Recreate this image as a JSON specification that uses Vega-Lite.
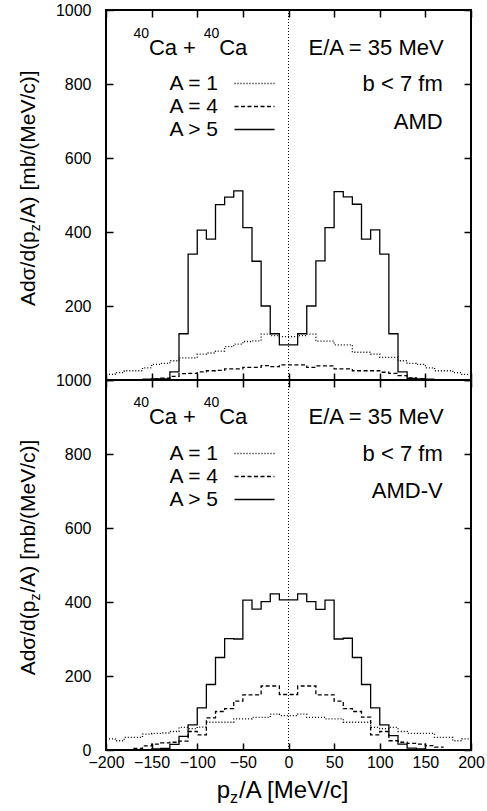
{
  "$schema": "https://vega.github.io/schema/vega-lite/v6.json",
  "padding": {"left": 16, "top": 1, "right": 0, "bottom": 0},
  "background": "white",
  "datasets": {
    "amd": [
      {"series":"A = 1","pz":-200,"v":15},{"series":"A = 1","pz":-190,"v":20},{"series":"A = 1","pz":-180,"v":25},{"series":"A = 1","pz":-170,"v":25},{"series":"A = 1","pz":-160,"v":33},{"series":"A = 1","pz":-150,"v":42},{"series":"A = 1","pz":-140,"v":45},{"series":"A = 1","pz":-130,"v":52},{"series":"A = 1","pz":-120,"v":60},{"series":"A = 1","pz":-110,"v":60},{"series":"A = 1","pz":-100,"v":70},{"series":"A = 1","pz":-90,"v":73},{"series":"A = 1","pz":-80,"v":78},{"series":"A = 1","pz":-70,"v":90},{"series":"A = 1","pz":-60,"v":97},{"series":"A = 1","pz":-50,"v":104},{"series":"A = 1","pz":-40,"v":106},{"series":"A = 1","pz":-30,"v":124},{"series":"A = 1","pz":-20,"v":120},{"series":"A = 1","pz":-10,"v":117},{"series":"A = 1","pz":0,"v":117},{"series":"A = 1","pz":10,"v":120},{"series":"A = 1","pz":20,"v":124},{"series":"A = 1","pz":30,"v":105},{"series":"A = 1","pz":40,"v":105},{"series":"A = 1","pz":50,"v":95},{"series":"A = 1","pz":60,"v":95},{"series":"A = 1","pz":70,"v":75},{"series":"A = 1","pz":80,"v":75},{"series":"A = 1","pz":90,"v":70},{"series":"A = 1","pz":100,"v":61},{"series":"A = 1","pz":110,"v":61},{"series":"A = 1","pz":120,"v":52},{"series":"A = 1","pz":130,"v":45},{"series":"A = 1","pz":140,"v":42},{"series":"A = 1","pz":150,"v":33},{"series":"A = 1","pz":160,"v":25},{"series":"A = 1","pz":170,"v":25},{"series":"A = 1","pz":180,"v":20},{"series":"A = 1","pz":190,"v":15},{"series":"A = 1","pz":200,"v":15},
      {"series":"A = 4","pz":-160,"v":1},{"series":"A = 4","pz":-150,"v":3},{"series":"A = 4","pz":-140,"v":5},{"series":"A = 4","pz":-130,"v":10},{"series":"A = 4","pz":-120,"v":17},{"series":"A = 4","pz":-110,"v":18},{"series":"A = 4","pz":-100,"v":22},{"series":"A = 4","pz":-90,"v":25},{"series":"A = 4","pz":-80,"v":26},{"series":"A = 4","pz":-70,"v":30},{"series":"A = 4","pz":-60,"v":30},{"series":"A = 4","pz":-50,"v":34},{"series":"A = 4","pz":-40,"v":34},{"series":"A = 4","pz":-30,"v":39},{"series":"A = 4","pz":-20,"v":36},{"series":"A = 4","pz":-10,"v":41},{"series":"A = 4","pz":0,"v":41},{"series":"A = 4","pz":10,"v":41},{"series":"A = 4","pz":20,"v":34},{"series":"A = 4","pz":30,"v":38},{"series":"A = 4","pz":40,"v":38},{"series":"A = 4","pz":50,"v":30},{"series":"A = 4","pz":60,"v":30},{"series":"A = 4","pz":70,"v":25},{"series":"A = 4","pz":80,"v":25},{"series":"A = 4","pz":90,"v":25},{"series":"A = 4","pz":100,"v":21},{"series":"A = 4","pz":110,"v":18},{"series":"A = 4","pz":120,"v":12},{"series":"A = 4","pz":130,"v":6},{"series":"A = 4","pz":140,"v":3},{"series":"A = 4","pz":150,"v":1},{"series":"A = 4","pz":160,"v":1},
      {"series":"A > 5","pz":-160,"v":2},{"series":"A > 5","pz":-150,"v":3},{"series":"A > 5","pz":-140,"v":3},{"series":"A > 5","pz":-130,"v":22},{"series":"A > 5","pz":-120,"v":125},{"series":"A > 5","pz":-110,"v":340},{"series":"A > 5","pz":-100,"v":405},{"series":"A > 5","pz":-90,"v":381},{"series":"A > 5","pz":-80,"v":474},{"series":"A > 5","pz":-70,"v":494},{"series":"A > 5","pz":-60,"v":511},{"series":"A > 5","pz":-50,"v":412},{"series":"A > 5","pz":-40,"v":321},{"series":"A > 5","pz":-30,"v":200},{"series":"A > 5","pz":-20,"v":125},{"series":"A > 5","pz":-10,"v":95},{"series":"A > 5","pz":0,"v":95},{"series":"A > 5","pz":10,"v":125},{"series":"A > 5","pz":20,"v":200},{"series":"A > 5","pz":30,"v":322},{"series":"A > 5","pz":40,"v":412},{"series":"A > 5","pz":50,"v":509},{"series":"A > 5","pz":60,"v":495},{"series":"A > 5","pz":70,"v":475},{"series":"A > 5","pz":80,"v":381},{"series":"A > 5","pz":90,"v":406},{"series":"A > 5","pz":100,"v":340},{"series":"A > 5","pz":110,"v":125},{"series":"A > 5","pz":120,"v":22},{"series":"A > 5","pz":130,"v":4},{"series":"A > 5","pz":140,"v":3},{"series":"A > 5","pz":150,"v":2},{"series":"A > 5","pz":160,"v":2}
    ],
    "amdv": [
      {"series":"A = 1","pz":-200,"v":30},{"series":"A = 1","pz":-190,"v":25},{"series":"A = 1","pz":-180,"v":34},{"series":"A = 1","pz":-170,"v":34},{"series":"A = 1","pz":-160,"v":43},{"series":"A = 1","pz":-150,"v":45},{"series":"A = 1","pz":-140,"v":46},{"series":"A = 1","pz":-130,"v":50},{"series":"A = 1","pz":-120,"v":61},{"series":"A = 1","pz":-110,"v":58},{"series":"A = 1","pz":-100,"v":62},{"series":"A = 1","pz":-90,"v":75},{"series":"A = 1","pz":-80,"v":75},{"series":"A = 1","pz":-70,"v":75},{"series":"A = 1","pz":-60,"v":84},{"series":"A = 1","pz":-50,"v":84},{"series":"A = 1","pz":-40,"v":88},{"series":"A = 1","pz":-30,"v":88},{"series":"A = 1","pz":-20,"v":97},{"series":"A = 1","pz":-10,"v":93},{"series":"A = 1","pz":0,"v":93},{"series":"A = 1","pz":10,"v":97},{"series":"A = 1","pz":20,"v":88},{"series":"A = 1","pz":30,"v":88},{"series":"A = 1","pz":40,"v":84},{"series":"A = 1","pz":50,"v":84},{"series":"A = 1","pz":60,"v":75},{"series":"A = 1","pz":70,"v":75},{"series":"A = 1","pz":80,"v":75},{"series":"A = 1","pz":90,"v":61},{"series":"A = 1","pz":100,"v":58},{"series":"A = 1","pz":110,"v":61},{"series":"A = 1","pz":120,"v":50},{"series":"A = 1","pz":130,"v":45},{"series":"A = 1","pz":140,"v":45},{"series":"A = 1","pz":150,"v":45},{"series":"A = 1","pz":160,"v":34},{"series":"A = 1","pz":170,"v":34},{"series":"A = 1","pz":180,"v":25},{"series":"A = 1","pz":190,"v":30},{"series":"A = 1","pz":200,"v":30},
      {"series":"A = 4","pz":-170,"v":4},{"series":"A = 4","pz":-160,"v":11},{"series":"A = 4","pz":-150,"v":16},{"series":"A = 4","pz":-140,"v":19},{"series":"A = 4","pz":-130,"v":21},{"series":"A = 4","pz":-120,"v":24},{"series":"A = 4","pz":-110,"v":50},{"series":"A = 4","pz":-100,"v":41},{"series":"A = 4","pz":-90,"v":87},{"series":"A = 4","pz":-80,"v":104},{"series":"A = 4","pz":-70,"v":112},{"series":"A = 4","pz":-60,"v":132},{"series":"A = 4","pz":-50,"v":149},{"series":"A = 4","pz":-40,"v":149},{"series":"A = 4","pz":-30,"v":173},{"series":"A = 4","pz":-20,"v":173},{"series":"A = 4","pz":-10,"v":150},{"series":"A = 4","pz":0,"v":150},{"series":"A = 4","pz":10,"v":173},{"series":"A = 4","pz":20,"v":173},{"series":"A = 4","pz":30,"v":149},{"series":"A = 4","pz":40,"v":149},{"series":"A = 4","pz":50,"v":132},{"series":"A = 4","pz":60,"v":112},{"series":"A = 4","pz":70,"v":104},{"series":"A = 4","pz":80,"v":89},{"series":"A = 4","pz":90,"v":41},{"series":"A = 4","pz":100,"v":50},{"series":"A = 4","pz":110,"v":25},{"series":"A = 4","pz":120,"v":21},{"series":"A = 4","pz":130,"v":18},{"series":"A = 4","pz":140,"v":16},{"series":"A = 4","pz":150,"v":12},{"series":"A = 4","pz":160,"v":8},{"series":"A = 4","pz":170,"v":8},
      {"series":"A > 5","pz":-160,"v":1},{"series":"A > 5","pz":-150,"v":3},{"series":"A > 5","pz":-140,"v":4},{"series":"A > 5","pz":-130,"v":15},{"series":"A > 5","pz":-120,"v":37},{"series":"A > 5","pz":-110,"v":68},{"series":"A > 5","pz":-100,"v":114},{"series":"A > 5","pz":-90,"v":177},{"series":"A > 5","pz":-80,"v":250},{"series":"A > 5","pz":-70,"v":301},{"series":"A > 5","pz":-60,"v":300},{"series":"A > 5","pz":-50,"v":405},{"series":"A > 5","pz":-40,"v":381},{"series":"A > 5","pz":-30,"v":401},{"series":"A > 5","pz":-20,"v":422},{"series":"A > 5","pz":-10,"v":406},{"series":"A > 5","pz":0,"v":406},{"series":"A > 5","pz":10,"v":422},{"series":"A > 5","pz":20,"v":401},{"series":"A > 5","pz":30,"v":380},{"series":"A > 5","pz":40,"v":405},{"series":"A > 5","pz":50,"v":300},{"series":"A > 5","pz":60,"v":302},{"series":"A > 5","pz":70,"v":250},{"series":"A > 5","pz":80,"v":177},{"series":"A > 5","pz":90,"v":114},{"series":"A > 5","pz":100,"v":68},{"series":"A > 5","pz":110,"v":39},{"series":"A > 5","pz":120,"v":16},{"series":"A > 5","pz":130,"v":5},{"series":"A > 5","pz":140,"v":3},{"series":"A > 5","pz":150,"v":1},{"series":"A > 5","pz":160,"v":1}
    ]
  },
  "vconcat": [
    {
      "width": 365, "height": 370,
      "resolve": {"axis": {"x": "independent", "y": "independent"}},
      "layer": [
        {
          "data": {"name": "amd"},
          "mark": {"type": "line", "interpolate": "step-after", "color": "black", "strokeWidth": 1.3},
          "encoding": {
            "x": {"field": "pz", "type": "quantitative", "scale": {"domain": [-200, 200], "nice": false},
                  "axis": {"orient": "bottom", "values": [-200,-150,-100,-50,0,50,100,150,200], "labels": false, "title": null}},
            "y": {"field": "v", "type": "quantitative", "scale": {"domain": [0, 1000], "nice": false},
                  "axis": {"orient": "left", "values": [0,200,400,600,800,1000], "format": "d", "labelExpr": "datum.value == 0 ? '' : datum.label", "title": null}},
            "strokeDash": {"field": "series", "type": "nominal",
                  "scale": {"domain": ["A = 1", "A = 4", "A > 5"], "range": [[1, 2], [4, 2.5], [1, 0]]},
                  "legend": {"orient": "none", "legendX": 138, "legendY": 63, "title": null, "symbolType": "M-4,0H4", "symbolSize": 100, "symbolStrokeWidth": 1.3, "symbolStrokeColor": "black", "symbolFillColor": "transparent", "labelFontSize": 21, "labelFont": "Liberation Sans", "labelColor": "black", "labelAlign": "right", "labelBaseline": "middle", "labelOffset": -47, "rowPadding": 1, "padding": 0}}
          }
        },
        {
          "data": {"values": [{}]},
          "mark": {"type": "rule", "color": "black", "strokeWidth": 1, "strokeDash": [1, 2]},
          "encoding": {
            "x": {"datum": 0, "type": "quantitative", "axis": {"orient": "top", "values": [-200,-150,-100,-50,0,50,100,150,200], "labels": false, "title": null}}
          }
        },
        {
          "data": {"values": [{}]},
          "mark": {"type": "text", "align": "right", "baseline": "alphabetic", "fontSize": 22, "text": "E/A = 35 MeV"},
          "encoding": {
            "x": {"datum": 170, "type": "quantitative", "axis": null},
            "y": {"datum": 879, "type": "quantitative", "axis": {"orient": "right", "values": [0,200,400,600,800,1000], "labels": false, "title": null}}
          }
        },
        {
          "data": {"values": [{}]},
          "mark": {"type": "text", "align": "left", "baseline": "alphabetic", "fontSize": 14, "dy": -17, "text": "40"},
          "encoding": {"x": {"datum": -170, "type": "quantitative", "axis": null}, "y": {"datum": 879, "type": "quantitative", "axis": null}}
        },
        {
          "data": {"values": [{}]},
          "mark": {"type": "text", "align": "left", "baseline": "alphabetic", "fontSize": 22, "text": "Ca +"},
          "encoding": {"x": {"datum": -153, "type": "quantitative", "axis": null}, "y": {"datum": 879, "type": "quantitative", "axis": null}}
        },
        {
          "data": {"values": [{}]},
          "mark": {"type": "text", "align": "left", "baseline": "alphabetic", "fontSize": 14, "dy": -17, "text": "40"},
          "encoding": {"x": {"datum": -93, "type": "quantitative", "axis": null}, "y": {"datum": 879, "type": "quantitative", "axis": null}}
        },
        {
          "data": {"values": [{}]},
          "mark": {"type": "text", "align": "left", "baseline": "alphabetic", "fontSize": 22, "text": "Ca"},
          "encoding": {"x": {"datum": -76, "type": "quantitative", "axis": null}, "y": {"datum": 879, "type": "quantitative", "axis": null}}
        },
        {
          "data": {"values": [{}]},
          "mark": {"type": "text", "align": "right", "baseline": "alphabetic", "fontSize": 22, "text": "b < 7 fm"},
          "encoding": {"x": {"datum": 169, "type": "quantitative", "axis": null}, "y": {"datum": 780, "type": "quantitative", "axis": null}}
        },
        {
          "data": {"values": [{}]},
          "mark": {"type": "text", "align": "right", "baseline": "alphabetic", "fontSize": 22, "text": "AMD"},
          "encoding": {"x": {"datum": 169, "type": "quantitative", "axis": null}, "y": {"datum": 679, "type": "quantitative", "axis": null}}
        },
        {
          "data": {"values": [{}]},
          "mark": {"type": "text", "align": "right", "baseline": "alphabetic", "angle": 270, "fontSize": 21, "text": "Adσ/d(p"},
          "encoding": {"x": {"datum": -278, "type": "quantitative", "axis": null}, "y": {"datum": 402, "type": "quantitative", "axis": null}}
        },
        {
          "data": {"values": [{}]},
          "mark": {"type": "text", "align": "left", "baseline": "alphabetic", "angle": 270, "fontSize": 14, "dy": 5, "text": "z"},
          "encoding": {"x": {"datum": -278, "type": "quantitative", "axis": null}, "y": {"datum": 402, "type": "quantitative", "axis": null}}
        },
        {
          "data": {"values": [{}]},
          "mark": {"type": "text", "align": "left", "baseline": "alphabetic", "angle": 270, "fontSize": 21, "dx": 8, "text": "/A) [mb/(MeV/c)]"},
          "encoding": {"x": {"datum": -278, "type": "quantitative", "axis": null}, "y": {"datum": 402, "type": "quantitative", "axis": null}}
        }
      ]
    },
    {
      "width": 365, "height": 370,
      "resolve": {"axis": {"x": "independent", "y": "independent"}},
      "layer": [
        {
          "data": {"name": "amdv"},
          "mark": {"type": "line", "interpolate": "step-after", "color": "black", "strokeWidth": 1.3},
          "encoding": {
            "x": {"field": "pz", "type": "quantitative", "scale": {"domain": [-200, 200], "nice": false},
                  "axis": {"orient": "bottom", "values": [-200,-150,-100,-50,0,50,100,150,200], "format": "d", "title": null}},
            "y": {"field": "v", "type": "quantitative", "scale": {"domain": [0, 1000], "nice": false},
                  "axis": {"orient": "left", "values": [0,200,400,600,800,1000], "format": "d", "title": null}},
            "strokeDash": {"field": "series", "type": "nominal",
                  "scale": {"domain": ["A = 1", "A = 4", "A > 5"], "range": [[1, 2], [4, 2.5], [1, 0]]},
                  "legend": {"orient": "none", "legendX": 138, "legendY": 63, "title": null, "symbolType": "M-4,0H4", "symbolSize": 100, "symbolStrokeWidth": 1.3, "symbolStrokeColor": "black", "symbolFillColor": "transparent", "labelFontSize": 21, "labelFont": "Liberation Sans", "labelColor": "black", "labelAlign": "right", "labelBaseline": "middle", "labelOffset": -47, "rowPadding": 1, "padding": 0}}
          }
        },
        {
          "data": {"values": [{}]},
          "mark": {"type": "rule", "color": "black", "strokeWidth": 1, "strokeDash": [1, 2]},
          "encoding": {
            "x": {"datum": 0, "type": "quantitative", "axis": {"orient": "top", "values": [-200,-150,-100,-50,0,50,100,150,200], "labels": false, "title": null}}
          }
        },
        {
          "data": {"values": [{}]},
          "mark": {"type": "text", "align": "right", "baseline": "alphabetic", "fontSize": 22, "text": "E/A = 35 MeV"},
          "encoding": {
            "x": {"datum": 170, "type": "quantitative", "axis": null},
            "y": {"datum": 880, "type": "quantitative", "axis": {"orient": "right", "values": [0,200,400,600,800,1000], "labels": false, "title": null}}
          }
        },
        {
          "data": {"values": [{}]},
          "mark": {"type": "text", "align": "left", "baseline": "alphabetic", "fontSize": 14, "dy": -17, "text": "40"},
          "encoding": {"x": {"datum": -170, "type": "quantitative", "axis": null}, "y": {"datum": 880, "type": "quantitative", "axis": null}}
        },
        {
          "data": {"values": [{}]},
          "mark": {"type": "text", "align": "left", "baseline": "alphabetic", "fontSize": 22, "text": "Ca +"},
          "encoding": {"x": {"datum": -153, "type": "quantitative", "axis": null}, "y": {"datum": 880, "type": "quantitative", "axis": null}}
        },
        {
          "data": {"values": [{}]},
          "mark": {"type": "text", "align": "left", "baseline": "alphabetic", "fontSize": 14, "dy": -17, "text": "40"},
          "encoding": {"x": {"datum": -93, "type": "quantitative", "axis": null}, "y": {"datum": 880, "type": "quantitative", "axis": null}}
        },
        {
          "data": {"values": [{}]},
          "mark": {"type": "text", "align": "left", "baseline": "alphabetic", "fontSize": 22, "text": "Ca"},
          "encoding": {"x": {"datum": -76, "type": "quantitative", "axis": null}, "y": {"datum": 880, "type": "quantitative", "axis": null}}
        },
        {
          "data": {"values": [{}]},
          "mark": {"type": "text", "align": "right", "baseline": "alphabetic", "fontSize": 22, "text": "b < 7 fm"},
          "encoding": {"x": {"datum": 169, "type": "quantitative", "axis": null}, "y": {"datum": 781, "type": "quantitative", "axis": null}}
        },
        {
          "data": {"values": [{}]},
          "mark": {"type": "text", "align": "right", "baseline": "alphabetic", "fontSize": 22, "text": "AMD-V"},
          "encoding": {"x": {"datum": 169, "type": "quantitative", "axis": null}, "y": {"datum": 682, "type": "quantitative", "axis": null}}
        },
        {
          "data": {"values": [{}]},
          "mark": {"type": "text", "align": "right", "baseline": "alphabetic", "angle": 270, "fontSize": 21, "text": "Adσ/d(p"},
          "encoding": {"x": {"datum": -278, "type": "quantitative", "axis": null}, "y": {"datum": 404, "type": "quantitative", "axis": null}}
        },
        {
          "data": {"values": [{}]},
          "mark": {"type": "text", "align": "left", "baseline": "alphabetic", "angle": 270, "fontSize": 14, "dy": 5, "text": "z"},
          "encoding": {"x": {"datum": -278, "type": "quantitative", "axis": null}, "y": {"datum": 404, "type": "quantitative", "axis": null}}
        },
        {
          "data": {"values": [{}]},
          "mark": {"type": "text", "align": "left", "baseline": "alphabetic", "angle": 270, "fontSize": 21, "dx": 8, "text": "/A) [mb/(MeV/c)]"},
          "encoding": {"x": {"datum": -278, "type": "quantitative", "axis": null}, "y": {"datum": 404, "type": "quantitative", "axis": null}}
        },
        {
          "data": {"values": [{}]},
          "mark": {"type": "text", "align": "right", "baseline": "alphabetic", "fontSize": 24, "text": "p"},
          "encoding": {"x": {"datum": -64, "type": "quantitative", "axis": null}, "y": {"datum": -131, "type": "quantitative", "axis": null}}
        },
        {
          "data": {"values": [{}]},
          "mark": {"type": "text", "align": "left", "baseline": "alphabetic", "fontSize": 16, "dy": 5, "text": "z"},
          "encoding": {"x": {"datum": -64, "type": "quantitative", "axis": null}, "y": {"datum": -131, "type": "quantitative", "axis": null}}
        },
        {
          "data": {"values": [{}]},
          "mark": {"type": "text", "align": "left", "baseline": "alphabetic", "fontSize": 24, "dx": 9, "text": "/A [MeV/c]"},
          "encoding": {"x": {"datum": -64, "type": "quantitative", "axis": null}, "y": {"datum": -131, "type": "quantitative", "axis": null}}
        }
      ]
    }
  ],
  "spacing": 0,
  "bounds": "flush",
  "resolve": {"legend": {"strokeDash": "independent"}},
  "config": {
    "font": "Liberation Sans",
    "view": {"stroke": "black", "strokeWidth": 2},
    "text": {"color": "black", "font": "Liberation Sans"},
    "axis": {"domain": false, "grid": false, "ticks": true, "tickSize": -7, "tickWidth": 1.5, "tickColor": "black",
             "labelFont": "Liberation Sans", "labelFontSize": 16, "labelColor": "black", "labelPadding": 22, "labelFlush": false, "labelOverlap": false},
    "axisX": {"labelPadding": 11},
    "legend": {"labelFont": "Liberation Sans"}
  }
}
